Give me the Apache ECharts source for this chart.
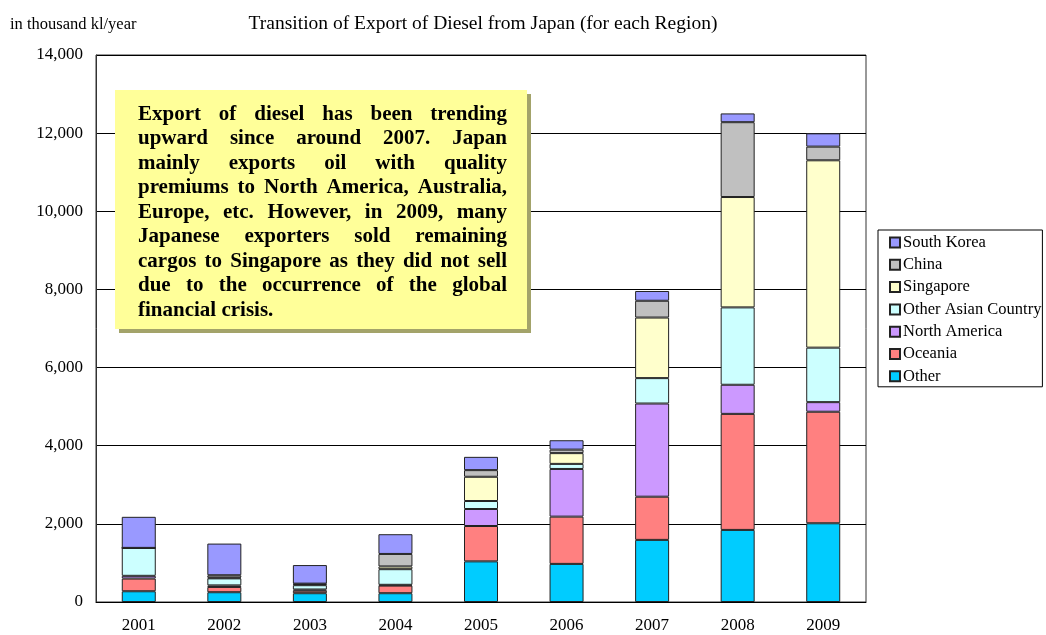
<!DOCTYPE html>
<html>
<head>
<meta charset="utf-8">
<script src="https://cdn.jsdelivr.net/npm/echarts@6/dist/echarts.min.js"></script>
<style>
  html, body { margin: 0; padding: 0; background: #fff; }
  #main { width: 1046px; height: 635px; }
</style>
</head>
<body>
<div id="main"></div>
<script>
// years on the x axis
const years = ["2001", "2002", "2003", "2004", "2005", "2006", "2007", "2008", "2009"];

// export volume per region, thousand kl/year
const other = [275, 250, 225, 225, 1040, 975, 1590, 1845, 2015];
const oceania = [325, 135, 65, 195, 905, 1210, 1105, 2970, 2855];
const northAmerica = [70, 40, 30, 20, 435, 1220, 2385, 745, 245];
const otherAsian = [715, 180, 110, 400, 205, 130, 650, 1980, 1395];
const singapore = [0, 20, 25, 70, 620, 275, 1550, 2825, 4795];
const china = [0, 60, 15, 320, 170, 90, 430, 1915, 350];
const southKorea = [795, 810, 475, 505, 340, 240, 250, 225, 340];

const yTicks = [0, 2000, 4000, 6000, 8000, 10000, 12000, 14000];

const noteLines = [
  "Export of diesel has been trending",
  "upward since around 2007. Japan",
  "mainly exports oil with quality",
  "premiums to North America, Australia,",
  "Europe, etc. However, in 2009, many",
  "Japanese exporters sold remaining",
  "cargos to Singapore as they did not sell",
  "due to the occurrence of the global",
  "financial crisis."
];

const serif = '"Liberation Serif", "Times New Roman", serif';

const seriesDefs = [
  { name: "Other", data: other, color: "#00CCFF" },
  { name: "Oceania", data: oceania, color: "#FF8080" },
  { name: "North America", data: northAmerica, color: "#CC99FF" },
  { name: "Other Asian Country", data: otherAsian, color: "#CCFFFF" },
  { name: "Singapore", data: singapore, color: "#FFFFCC" },
  { name: "China", data: china, color: "#C0C0C0" },
  { name: "South Korea", data: southKorea, color: "#9999FF" }
];

// justified note text, word by word
function buildNote() {
  const font = "bold 21px " + serif;
  const ctx = document.createElement("canvas").getContext("2d");
  ctx.font = font;
  const left = 138, right = 507, top = 114.5, step = 24.5;
  const items = [];
  noteLines.forEach(function (line, i) {
    const y = top + i * step;
    const words = line.split(" ");
    const last = i === noteLines.length - 1;
    if (last || words.length < 2) {
      items.push({
        type: "text", x: left, y: y,
        style: { text: line, font: font, fill: "#000", textVerticalAlign: "middle" }
      });
      return;
    }
    const widths = words.map(function (w) { return ctx.measureText(w).width; });
    const total = widths.reduce(function (a, b) { return a + b; }, 0);
    const gap = (right - left - total) / (words.length - 1);
    let x = left;
    words.forEach(function (w, k) {
      items.push({
        type: "text", x: x, y: y,
        style: { text: w, font: font, fill: "#000", textVerticalAlign: "middle" }
      });
      x += widths[k] + gap;
    });
  });
  return items;
}

const chart = echarts.init(document.getElementById("main"));

const option = {
  animation: false,
  backgroundColor: "#fff",
  title: {
    text: "Transition of Export of Diesel from Japan (for each Region)",
    left: 478,
    top: 9,
    textAlign: "center",
    textStyle: { fontFamily: serif, fontSize: 19.5, fontWeight: "normal", color: "#000" }
  },
  grid: {
    left: 96, right: 180, top: 55, bottom: 33,
    show: true, borderColor: "#333", borderWidth: 1, backgroundColor: "transparent"
  },
  legend: {
    data: seriesDefs.map(function (s) { return s.name; }).reverse(),
    orient: "vertical",
    left: 878,
    top: 230,
    itemWidth: 10,
    itemHeight: 10,
    itemGap: 5.3,
    padding: [4, 1, 2, 11],
    borderColor: "#000",
    borderWidth: 1,
    icon: "rect",
    textStyle: { fontFamily: serif, fontSize: 16.5, lineHeight: 17, color: "#000", padding: [0, 0, 0, -2] }
  },
  xAxis: {
    type: "category",
    data: years,
    axisLine: { lineStyle: { color: "#000", width: 1 } },
    axisTick: { inside: true, length: 5, lineStyle: { color: "#000" } },
    axisLabel: { fontFamily: serif, fontSize: 17, color: "#000", margin: 15 }
  },
  yAxis: {
    type: "value",
    min: yTicks[0],
    max: yTicks[yTicks.length - 1],
    interval: 2000,
    axisLine: { show: true, lineStyle: { color: "#333", width: 1 } },
    axisTick: { show: false },
    splitLine: { lineStyle: { color: "#000", width: 1 } },
    axisLabel: {
      fontFamily: serif, fontSize: 17, color: "#000", margin: 13,
      formatter: function (v) { return v.toLocaleString("en-US"); }
    }
  },
  series: seriesDefs.map(function (s) {
    return {
      name: s.name,
      type: "bar",
      stack: "total",
      barWidth: 34,
      data: s.data,
      itemStyle: { color: s.color, borderColor: "#222", borderWidth: 1 }
    };
  }),
  graphic: [
    {
      type: "text", left: 10, top: 16, z: 100,
      style: { text: "in thousand kl/year", font: "16.5px " + serif, fill: "#000" }
    },
    {
      type: "group",
      z: 100,
      children: [
        { type: "rect", z: 100, shape: { x: 119, y: 94, width: 412, height: 239 }, style: { fill: "#A3A36A" } },
        { type: "rect", z: 101, shape: { x: 115, y: 90, width: 412, height: 239 }, style: { fill: "#FFFF99" } }
      ].concat(buildNote().map(function (t) { t.z = 102; return t; }))
    }
  ]
};

chart.setOption(option);
</script>
</body>
</html>
